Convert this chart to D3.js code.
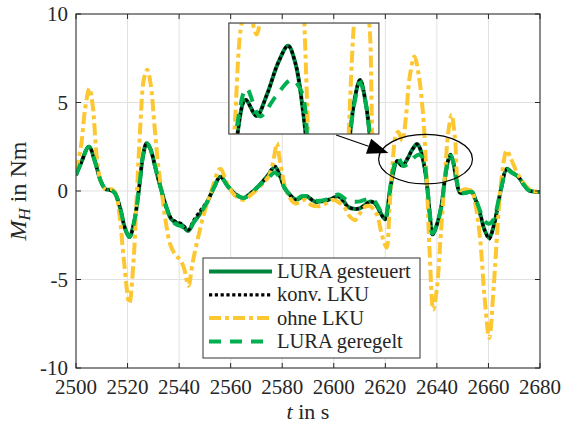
<!DOCTYPE html>
<html><head><meta charset="utf-8">
<script src="https://cdn.jsdelivr.net/npm/d3@7"></script>
<style>
html,body{margin:0;padding:0;background:#fff;}
svg{display:block;}
</style></head><body>
<svg id="chart" width="563" height="425"></svg>
<script>
// ---- data ----
const xTicks = [2500,2520,2540,2560,2580,2600,2620,2640,2660,2680];
const yTicks = [-10,-5,0,5,10];
const yTickLabels = ["-10","-5","0","5","10"];
const seriesNames = ["LURA gesteuert","konv. LKU","ohne LKU","LURA geregelt"];

const luraGesteuert = [
[2500,0.9],[2502,1.6],[2505,2.5],[2507.5,1.6],[2509.5,0.6],[2511.5,0.1],[2513.5,0.05],[2515,-0.1],
[2517,-0.9],[2519,-2.1],[2520.7,-2.6],[2522.5,-1.8],[2524.5,0.2],[2526,2.0],[2527.4,2.7],[2528.8,2.4],
[2531,1.2],[2533.2,0.0],[2535,-0.9],[2537,-1.6],[2539,-1.8],[2541,-1.9],[2543.5,-2.25],[2545.5,-1.8],
[2548,-1.3],[2551,-0.6],[2553.5,0.2],[2556,0.8],[2559,0.25],[2562,-0.2],[2565,-0.4],[2568,-0.1],
[2571,0.3],[2574,0.8],[2577.2,1.35],[2579,0.9],[2581,0.15],[2583.5,-0.3],[2585.6,-0.5],[2587.5,-0.35],
[2589.5,-0.3],[2592.7,-0.6],[2596.6,-0.55],[2599,-0.45],[2601.7,-0.3],[2603.5,-0.5],[2605.6,-0.9],
[2609.5,-1.0],[2612,-0.8],[2614,-0.6],[2616,-0.7],[2618,-1.2],[2619.9,-1.6],[2621.5,-0.3],[2623,1.0],
[2624.6,1.7],[2626.6,1.42],[2628.5,1.8],[2630.5,2.35],[2632.3,2.65],[2633.6,2.35],[2635,1.5],[2636.2,0.3],
[2637.3,-1.4],[2638.3,-2.45],[2640,-1.9],[2641.8,-0.8],[2643.2,0.8],[2644.3,1.7],[2645.3,2.05],[2646.4,1.6],
[2647.5,0.7],[2649,-0.1],[2651,-0.1],[2653.5,-0.05],[2655,-0.5],[2656.7,-1.25],[2658.5,-2.2],[2660.3,-2.65],
[2662,-2.0],[2663.2,-1.2],[2665,0.2],[2667.1,1.25],[2669,1.05],[2671.6,0.8],[2673.5,0.4],[2675.5,0.05],
[2678,-0.05],[2680,-0.05]
];

const konvLKU = [
[2500,0.9],[2502,1.6],[2505,2.5],[2507.5,1.6],[2509.5,0.6],[2511.5,0.1],[2513.5,0.05],[2515,-0.1],
[2517,-0.9],[2519,-2.1],[2520.7,-2.6],[2522.5,-1.8],[2524.5,0.2],[2526,2.0],[2527.4,2.7],[2528.8,2.4],
[2531,1.2],[2533.2,0.0],[2535,-0.9],[2537,-1.55],[2539,-1.75],[2541,-1.85],[2543.5,-2.2],[2545.5,-1.7],
[2548,-1.15],[2551,-0.55],[2553.5,0.2],[2556,0.8],[2559,0.25],[2562,-0.2],[2565,-0.4],[2568,-0.1],
[2571,0.3],[2574,0.8],[2577.2,1.4],[2579,0.9],[2581,0.15],[2583.5,-0.3],[2585.6,-0.5],[2587.5,-0.35],
[2589.5,-0.3],[2592.7,-0.6],[2596.6,-0.55],[2599,-0.45],[2601.7,-0.3],[2603.5,-0.55],[2605.6,-0.9],
[2609.5,-1.0],[2612,-0.8],[2614,-0.6],[2616,-0.7],[2618,-1.2],[2619.9,-1.6],[2621.5,-0.3],[2623,1.0],
[2624.6,1.7],[2626.6,1.42],[2628.5,1.8],[2630.5,2.35],[2632.3,2.65],[2633.6,2.35],[2635,1.5],[2636.2,0.3],
[2637.3,-1.4],[2638.3,-2.45],[2640,-1.9],[2641.8,-0.8],[2643.2,0.8],[2644.3,1.7],[2645.3,2.05],[2646.4,1.6],
[2647.5,0.7],[2649,-0.1],[2651,-0.1],[2653.5,-0.05],[2655,-0.5],[2656.7,-1.25],[2658.5,-2.2],[2660.3,-2.7],
[2662,-2.0],[2663.2,-1.2],[2665,0.2],[2667.1,1.25],[2669,1.05],[2671.6,0.8],[2673.5,0.4],[2675.5,0.05],
[2678,-0.05],[2680,-0.05]
];

const ohneLKU = [
[2500,1.1],[2502,2.6],[2503.5,4.6],[2505.2,5.8],[2506.5,4.8],[2508,2.0],[2509.5,0.6],[2511.5,0.1],
[2514,0.1],[2515.5,-0.2],[2517,-1.5],[2518.5,-3.8],[2520.7,-6.35],[2522.3,-4.0],[2523.5,-0.5],[2525,3.8],
[2526.3,6.3],[2527.6,6.85],[2528.9,6.1],[2530.5,3.6],[2532,1.3],[2533.2,0.0],[2535,-1.9],[2536.5,-3.0],
[2538.5,-3.6],[2540.5,-3.9],[2542,-4.4],[2543.6,-5.35],[2545.3,-4.0],[2547.4,-2.6],[2550,-1.1],[2552.6,0.05],
[2555.9,1.25],[2559,0.3],[2562,-0.3],[2565,-0.5],[2568,-0.2],[2572,0.35],[2575,0.9],[2576.8,1.9],
[2577.9,2.7],[2579,1.8],[2581.1,0.24],[2583,-0.4],[2585,-0.7],[2587,-0.6],[2588.7,-0.5],[2591.4,-0.8],
[2594.6,-0.85],[2597,-0.7],[2599.8,-0.5],[2602,-0.65],[2604.3,-0.95],[2606,-1.4],[2608.2,-1.65],[2610,-1.3],
[2612,-0.9],[2614,-0.85],[2616.6,-1.3],[2618.7,-2.5],[2620.5,-3.2],[2621.6,-1.0],[2622.7,1.3],[2624,3.1],
[2625,3.35],[2626.6,2.85],[2628,4.2],[2629.5,6.5],[2631.3,7.6],[2633,6.5],[2634.7,4.2],[2636,0.8],
[2637.2,-3.5],[2638.6,-6.7],[2640,-5.5],[2641.5,-2.5],[2643.1,0.8],[2644.4,3.3],[2645.7,4.3],[2647,3.0],
[2649,0.05],[2651,0.1],[2653.5,0.0],[2655,-0.8],[2656.7,-2.6],[2658.5,-6.0],[2660.3,-8.3],[2662,-5.5],
[2663.8,-1.45],[2665,0.6],[2667.1,2.3],[2668.5,1.9],[2670.9,1.1],[2672.5,0.7],[2674.8,0.24],[2677,0.0],
[2680,-0.04]
];

const luraGeregelt = [
[2500,0.9],[2502,1.6],[2505,2.5],[2507.5,1.6],[2509.5,0.6],[2511.5,0.1],[2513.5,0.05],[2515,-0.1],
[2517,-0.9],[2519,-2.1],[2520.7,-2.6],[2522.5,-1.8],[2524.5,0.2],[2526,2.0],[2527.4,2.7],[2528.8,2.4],
[2531,1.2],[2533.2,0.0],[2535,-0.9],[2537,-1.6],[2539,-1.9],[2541,-2.0],[2543.5,-2.25],[2545.5,-1.8],
[2548,-1.3],[2551,-0.6],[2553.5,0.2],[2556,0.8],[2559,0.25],[2562,-0.2],[2565,-0.4],[2568,-0.1],
[2571,0.3],[2574,0.65],[2577.2,1.05],[2579,0.75],[2581,0.15],[2583.5,-0.3],[2585.6,-0.45],[2587.5,-0.3],
[2589.5,-0.3],[2592.7,-0.55],[2596.6,-0.5],[2599,-0.35],[2601.7,-0.2],[2603.5,-0.35],[2605.6,-0.55],
[2609.5,-0.6],[2612,-0.5],[2614,-0.45],[2616,-0.6],[2618,-1.1],[2619.9,-1.5],[2621.5,-0.2],[2623,1.2],
[2624.8,1.9],[2627.2,1.41],[2630,1.75],[2632.9,2.05],[2634.7,1.85],[2636,0.6],
[2637.3,-1.3],[2638.3,-2.4],[2640,-1.9],[2641.8,-0.8],[2643.2,0.8],[2644.3,1.65],[2645.3,2.0],[2646.4,1.6],
[2647.5,0.7],[2649,-0.1],[2651,-0.1],[2653.5,-0.05],[2655,-0.45],[2656.7,-1.1],[2658.5,-1.7],[2660.3,-1.85],
[2662,-1.6],[2663.2,-1.0],[2665,0.2],[2667.1,1.2],[2669,1.05],[2671.6,0.8],[2673.5,0.4],[2675.5,0.05],
[2678,-0.05],[2680,-0.05]
];

// ---- layout ----
const FONT = '"Liberation Serif"';
const TXT = "#262626";
const svg = d3.select("#chart");
const L = 76, R = 540, T = 14, B = 368;
const x = d3.scaleLinear().domain([2500,2680]).range([L,R]);
const y = d3.scaleLinear().domain([-10,10]).range([B,T]);

function txt(sel){ return sel.style("font-family",FONT).attr("fill",TXT); }

const styles = [
  {color:"#00853e", width:4, dash:null},
  {color:"#000000", width:3.2, dash:"3.2,2.6"},
  {color:"#fdc731", width:4, dash:"12,4,4,4"},
  {color:"#00b050", width:4, dash:"12,9"}
];
const allSeries = [luraGesteuert, konvLKU, ohneLKU, luraGeregelt];

// grid
const grid = svg.append("g");
xTicks.forEach(t=>grid.append("line").attr("x1",x(t)).attr("x2",x(t)).attr("y1",T).attr("y2",B)
  .attr("stroke","#e1e1e1").attr("stroke-width",1));
yTicks.forEach(t=>grid.append("line").attr("x1",L).attr("x2",R).attr("y1",y(t)).attr("y2",y(t))
  .attr("stroke","#e1e1e1").attr("stroke-width",1));

svg.append("defs").append("clipPath").attr("id","plotclip").append("rect")
  .attr("x",L).attr("y",T).attr("width",R-L).attr("height",B-T);

function drawLines(g, xs, ys){
  const line = d3.line().x(d=>xs(d[0])).y(d=>ys(d[1])).curve(d3.curveCatmullRom.alpha(0.5));
  allSeries.forEach((s,i)=>{
    g.append("path").attr("d",line(s)).attr("fill","none")
      .attr("stroke",styles[i].color).attr("stroke-width",styles[i].width)
      .attr("stroke-dasharray",styles[i].dash).attr("stroke-linejoin","round");
  });
}
drawLines(svg.append("g").attr("clip-path","url(#plotclip)"), x, y);

// axes box + ticks (inward, all sides)
const ax = svg.append("g").attr("stroke","#262626").attr("stroke-width",1);
ax.append("rect").attr("x",L).attr("y",T).attr("width",R-L).attr("height",B-T).attr("fill","none");
const tl = 5;
xTicks.forEach(t=>{
  ax.append("line").attr("x1",x(t)).attr("x2",x(t)).attr("y1",B).attr("y2",B-tl);
  ax.append("line").attr("x1",x(t)).attr("x2",x(t)).attr("y1",T).attr("y2",T+tl);
});
yTicks.forEach(t=>{
  ax.append("line").attr("x1",L).attr("x2",L+tl).attr("y1",y(t)).attr("y2",y(t));
  ax.append("line").attr("x1",R).attr("x2",R-tl).attr("y1",y(t)).attr("y2",y(t));
});
xTicks.forEach(t=>txt(svg.append("text")).attr("x",x(t)).attr("y",B+26).attr("text-anchor","middle")
  .attr("font-size",21).text(t));
yTicks.forEach((t,i)=>txt(svg.append("text")).attr("x",L-8).attr("y",y(t)+7).attr("text-anchor","end")
  .attr("font-size",21).text(yTickLabels[i]));

// axis labels
const xl = txt(svg.append("text")).attr("x",(L+R)/2).attr("y",419).attr("text-anchor","middle").attr("font-size",22);
xl.append("tspan").attr("font-style","italic").text("t");
xl.append("tspan").text(" in s");
const yl = txt(svg.append("text")).attr("transform",`translate(26,${(T+B)/2}) rotate(-90)`)
  .attr("text-anchor","middle").attr("font-size",24);
yl.append("tspan").attr("font-style","italic").text("M");
yl.append("tspan").attr("font-style","italic").attr("font-size",17).attr("dy",4).text("H");
yl.append("tspan").attr("dy",-4).text(" in Nm");

// ellipse & arrow annotation (data units)
const ell = {t:2635.6, v:1.8, rt:18.2, rv:1.4};
svg.append("ellipse").attr("cx",x(ell.t)).attr("cy",y(ell.v))
  .attr("rx",x(ell.t+ell.rt)-x(ell.t)).attr("ry",y(ell.v)-y(ell.v+ell.rv))
  .attr("fill","none").attr("stroke","#000").attr("stroke-width",1.2);
const arrowFrom = [2600.9, 3.16], arrowTo = [2621.2, 2.14];
const ax0 = x(arrowFrom[0]), ay0 = y(arrowFrom[1]), ax1 = x(arrowTo[0]), ay1 = y(arrowTo[1]);
const dx = ax1-ax0, dy = ay1-ay0, dl = Math.hypot(dx,dy), ux = dx/dl, uy = dy/dl;
const hl = 21, hw = 8;
svg.append("line").attr("x1",ax0).attr("y1",ay0).attr("x2",ax1-ux*hl).attr("y2",ay1-uy*hl)
  .attr("stroke","#000").attr("stroke-width",1.1);
const bx = ax1-ux*hl, by = ay1-uy*hl;
svg.append("path").attr("d",`M${ax1},${ay1}L${bx-uy*hw},${by+ux*hw}L${bx+uy*hw},${by-ux*hw}Z`).attr("fill","#000");

// inset
const inset = {t0:2559.3, t1:2617.5, v0:3.22, v1:9.49};
const ixL = x(inset.t0), ixR = x(inset.t1), iyT = y(inset.v1), iyB = y(inset.v0);
svg.append("rect").attr("x",ixL).attr("y",iyT).attr("width",ixR-ixL).attr("height",iyB-iyT).attr("fill","#fff");
svg.append("defs").append("clipPath").attr("id","insetclip").append("rect")
  .attr("x",ixL).attr("y",iyT).attr("width",ixR-ixL).attr("height",iyB-iyT);
const xi = d3.scaleLinear().domain([2621.6,2648.7]).range([ixL,ixR]);
const yi = d3.scaleLinear().domain([1.1,3.05]).range([iyB,iyT]);
drawLines(svg.append("g").attr("clip-path","url(#insetclip)"), xi, yi);
svg.append("rect").attr("x",ixL).attr("y",iyT).attr("width",ixR-ixL).attr("height",iyB-iyT)
  .attr("fill","none").attr("stroke","#444").attr("stroke-width",1.2);

// legend
const lg = svg.append("g");
lg.append("rect").attr("x",203).attr("y",258).attr("width",217).attr("height",100)
  .attr("fill","#fff").attr("stroke","#333").attr("stroke-width",1);
seriesNames.forEach((n,i)=>{
  const yy = 271.5 + i*23.3;
  lg.append("line").attr("x1",209).attr("x2",272).attr("y1",yy).attr("y2",yy)
    .attr("stroke",styles[i].color).attr("stroke-width",styles[i].width).attr("stroke-dasharray",styles[i].dash);
  txt(lg.append("text")).attr("x",277).attr("y",yy+6.5).attr("font-size",20.5).text(n);
});
</script>
</body></html>
